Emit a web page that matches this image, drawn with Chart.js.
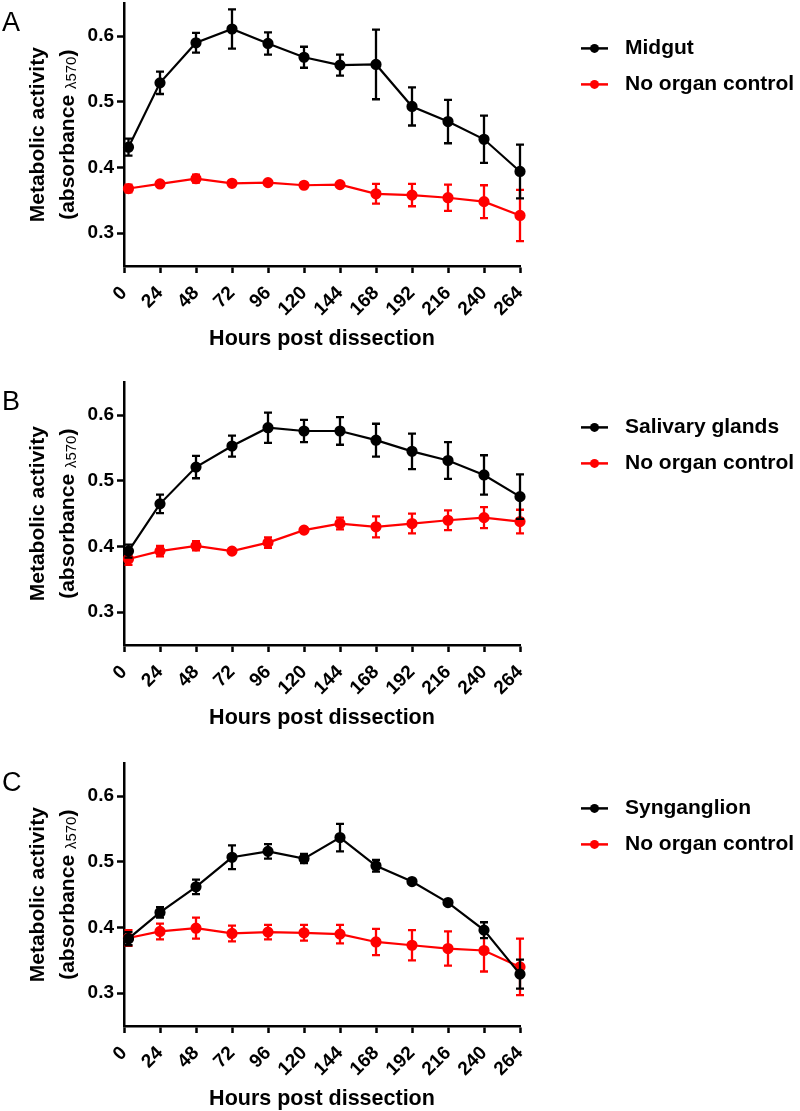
<!DOCTYPE html>
<html lang="en">
<head>
  <meta charset="UTF-8">
  <title>Metabolic activity</title>
  <script src="https://cdn.jsdelivr.net/npm/chart.js"></script>
  <style>
    body {
      margin: 0;
      background: #fff;
      width: 800px;
      height: 1111px;
      overflow: hidden;
      position: relative;
    }
    .panel {
      position: absolute;
      left: 0;
      width: 800px;
      height: 382px;
    }
  </style>
</head>
<body>
  <div class="panel" style="top:-11px"><canvas id="chartA" width="800" height="382"></canvas></div>
  <div class="panel" style="top:368px"><canvas id="chartB" width="800" height="382"></canvas></div>
  <div class="panel" style="top:749px"><canvas id="chartC" width="800" height="382"></canvas></div>

  <script>
    // hours post dissection (first reading sits just right of 0 in the figure)
    const hours = [3, 24, 48, 72, 96, 120, 144, 168, 192, 216, 240, 264];
    const xTicks = [0, 24, 48, 72, 96, 120, 144, 168, 192, 216, 240, 264];
    const yTicks = [0.3, 0.4, 0.5, 0.6];

    // A - midgut
    const midgut      = [0.431, 0.529, 0.590, 0.611, 0.589, 0.568, 0.556, 0.557, 0.493, 0.470, 0.443, 0.394];
    const midgutErr   = [0.013, 0.017, 0.015, 0.030, 0.017, 0.016, 0.016, 0.053, 0.029, 0.033, 0.036, 0.041];
    const midgutCtrl    = [0.368, 0.375, 0.383, 0.376, 0.377, 0.373, 0.374, 0.360, 0.358, 0.354, 0.348, 0.327];
    const midgutCtrlErr = [0.006, 0.002, 0.006, 0.002, 0.002, 0.002, 0.002, 0.015, 0.017, 0.020, 0.025, 0.039];

    // B - salivary glands
    const salivary      = [0.393, 0.465, 0.521, 0.553, 0.581, 0.576, 0.576, 0.562, 0.545, 0.531, 0.509, 0.476];
    const salivaryErr   = [0.010, 0.014, 0.017, 0.016, 0.023, 0.017, 0.021, 0.025, 0.027, 0.028, 0.030, 0.034];
    const salivaryCtrl    = [0.381, 0.393, 0.401, 0.393, 0.406, 0.425, 0.435, 0.430, 0.435, 0.440, 0.444, 0.438];
    const salivaryCtrlErr = [0.009, 0.008, 0.007, 0.002, 0.008, 0.002, 0.009, 0.016, 0.015, 0.015, 0.016, 0.018];

    // C - synganglion
    const synganglion      = [0.383, 0.423, 0.462, 0.507, 0.516, 0.505, 0.537, 0.494, 0.470, 0.438, 0.396, 0.329];
    const synganglionErr   = [0.010, 0.008, 0.011, 0.018, 0.011, 0.007, 0.021, 0.009, 0.002, 0.002, 0.012, 0.022];
    const synganglionCtrl    = [0.384, 0.394, 0.399, 0.391, 0.393, 0.392, 0.390, 0.378, 0.373, 0.368, 0.365, 0.340];
    const synganglionCtrlErr = [0.012, 0.012, 0.016, 0.012, 0.011, 0.012, 0.014, 0.020, 0.023, 0.026, 0.032, 0.043];

    const FONT = 'Arial, "Liberation Sans", sans-serif';
    Chart.defaults.font.family = FONT;
    Chart.defaults.color = '#000';

    const errorBars = {
      id: 'errorBars',
      afterDatasetDraw(chart, args) {
        const ds = chart.data.datasets[args.index];
        const y = chart.scales.y;
        const ctx = chart.ctx;
        ctx.save();
        ctx.strokeStyle = ds.borderColor;
        ctx.lineWidth = 2.3;
        args.meta.data.forEach((pt, i) => {
          const v = ds.data[i].y, e = ds.errors[i];
          const top = y.getPixelForValue(v + e);
          const bot = y.getPixelForValue(v - e);
          ctx.beginPath();
          ctx.moveTo(pt.x, top); ctx.lineTo(pt.x, bot);
          ctx.moveTo(pt.x - 4, top); ctx.lineTo(pt.x + 4, top);
          ctx.moveTo(pt.x - 4, bot); ctx.lineTo(pt.x + 4, bot);
          ctx.stroke();
        });
        ctx.restore();
      }
    };

    const decorations = {
      id: 'decorations',
      afterDraw(chart, args, opts) {
        const ctx = chart.ctx;
        const ca = chart.chartArea;
        const cy = (ca.top + ca.bottom) / 2;
        ctx.save();
        ctx.fillStyle = '#000';

        // panel letter
        ctx.font = '27px ' + FONT;
        ctx.textAlign = 'left';
        ctx.textBaseline = 'middle';
        ctx.fillText(opts.letter, 2, ca.top + 20);

        // y axis title, two lines, with subscript
        ctx.save();
        ctx.translate(38.5, cy);
        ctx.rotate(-Math.PI / 2);
        ctx.font = 'bold 21px ' + FONT;
        ctx.textAlign = 'center';
        ctx.fillText('Metabolic activity', 0, 0);
        ctx.restore();

        ctx.save();
        ctx.translate(68, cy);
        ctx.rotate(-Math.PI / 2);
        ctx.textAlign = 'left';
        const mainFont = 'bold 21px ' + FONT;
        const subFont = '15px ' + FONT;
        ctx.font = mainFont;
        const w1 = ctx.measureText('(absorbance ').width;
        const w3 = ctx.measureText(')').width;
        ctx.font = subFont;
        const w2 = ctx.measureText('\u03bb570').width;
        let x0 = -(w1 + w2 + w3) / 2;
        ctx.font = mainFont;
        ctx.fillText('(absorbance ', x0, 0);
        ctx.font = subFont;
        ctx.fillText('\u03bb570', x0 + w1, 4);
        ctx.font = mainFont;
        ctx.fillText(')', x0 + w1 + w2, 0);
        ctx.restore();

        // legend
        ctx.font = 'bold 21px ' + FONT;
        chart.data.datasets.forEach((ds, i) => {
          const yy = ca.top + 45 + i * 36;
          ctx.strokeStyle = ds.borderColor;
          ctx.fillStyle = ds.borderColor;
          ctx.lineWidth = 2.5;
          ctx.beginPath();
          ctx.moveTo(581, yy); ctx.lineTo(608, yy);
          ctx.stroke();
          ctx.beginPath();
          ctx.arc(594.5, yy, 4.5, 0, Math.PI * 2);
          ctx.fill();
          ctx.fillStyle = '#000';
          ctx.fillText(ds.label, 625, yy);
        });
        ctx.restore();
      }
    };

    function series(label, color, vals, errs) {
      return {
        label: label,
        data: hours.map((h, i) => ({ x: h, y: vals[i] })),
        errors: errs,
        borderColor: color,
        backgroundColor: color,
        pointBackgroundColor: color,
        pointBorderColor: color,
        pointRadius: 4.5,
        borderWidth: 2.2,
        tension: 0,
        clip: false
      };
    }

    function makeChart(id, letter, organ, organVals, organErr, ctrlVals, ctrlErr) {
      return new Chart(document.getElementById(id), {
        type: 'line',
        data: {
          datasets: [
            series(organ, '#000000', organVals, organErr),
            series('No organ control', '#ff0000', ctrlVals, ctrlErr)
          ]
        },
        plugins: [errorBars, decorations],
        options: {
          responsive: false,
          animation: false,
          layout: { padding: { top: 2, right: 280, left: 0, bottom: 0 } },
          plugins: {
            legend: { display: false },
            tooltip: { enabled: false },
            decorations: { letter: letter }
          },
          scales: {
            x: {
              type: 'linear',
              min: 0,
              max: 264,
              afterBuildTicks: s => { s.ticks = xTicks.map(v => ({ value: v })); },
              afterFit: s => { s.height = 105; },
              border: { display: true, color: '#000', width: 2.5 },
              grid: { drawOnChartArea: false, drawTicks: true, tickLength: 7, tickWidth: 2.5, tickColor: '#000' },
              ticks: {
                autoSkip: false,
                minRotation: 45,
                maxRotation: 45,
                padding: 9,
                font: { size: 19, weight: 'bold' },
                callback: v => String(v)
              },
              title: {
                display: true,
                text: 'Hours post dissection',
                font: { size: 21.5, weight: 'bold' },
                padding: { top: 0, bottom: 19 }
              }
            },
            y: {
              min: 0.25,
              max: 0.65,
              afterBuildTicks: s => { s.ticks = yTicks.map(v => ({ value: v })); },
              afterFit: s => { s.width = 124; },
              border: { display: true, color: '#000', width: 2.5 },
              grid: { drawOnChartArea: false, drawTicks: true, tickLength: 7, tickWidth: 2.5, tickColor: '#000' },
              ticks: {
                padding: 3,
                font: { size: 19, weight: 'bold' },
                callback: v => v.toFixed(1)
              }
            }
          }
        }
      });
    }

    makeChart('chartA', 'A', 'Midgut', midgut, midgutErr, midgutCtrl, midgutCtrlErr);
    makeChart('chartB', 'B', 'Salivary glands', salivary, salivaryErr, salivaryCtrl, salivaryCtrlErr);
    makeChart('chartC', 'C', 'Synganglion', synganglion, synganglionErr, synganglionCtrl, synganglionCtrlErr);
  </script>
</body>
</html>
